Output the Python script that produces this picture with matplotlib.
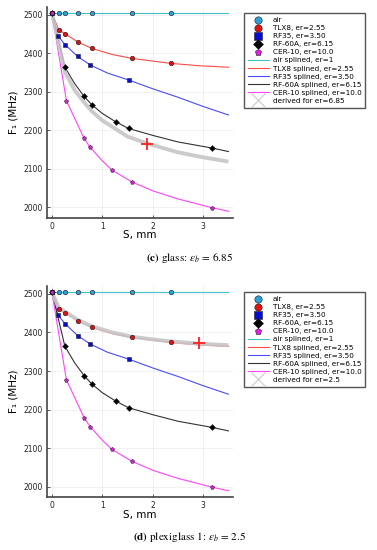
import matplotlib
matplotlib.use("Agg")
import matplotlib.pyplot as plt
from matplotlib.lines import Line2D

plt.rcParams["font.family"] = "DejaVu Sans"
plt.rcParams["mathtext.fontset"] = "stix"

# measured points (S in mm, F1 in MHz)
air_S = [0, 0.14, 0.26, 0.51, 0.79, 1.58, 2.36]
air_F = [2506, 2506, 2506, 2506, 2506, 2506, 2506]
tlx8_S = [0, 0.14, 0.26, 0.51, 0.79, 1.58, 2.36]
tlx8_F = [2506, 2460, 2451, 2430, 2413, 2387, 2374]
rf35_S = [0, 0.12, 0.26, 0.51, 0.76, 1.52]
rf35_F = [2506, 2446, 2423, 2392, 2370, 2331]
rf60_S = [0, 0.26, 0.64, 0.79, 1.27, 1.52, 3.18]
rf60_F = [2506, 2364, 2288, 2267, 2222, 2205, 2154]
cer10_S = [0, 0.29, 0.64, 0.76, 1.19, 1.59, 3.18]
cer10_F = [2506, 2277, 2179, 2156, 2097, 2066, 1999]

# splined curves
air_sp_S = [0, 3.5]
air_sp_F = [2506, 2506]
tlx8_sp_S = [0, 0.14, 0.26, 0.51, 0.79, 1.2, 1.58, 2.0, 2.36, 2.9, 3.5]
tlx8_sp_F = [2506, 2460, 2451, 2430, 2413, 2397, 2387, 2380, 2374, 2368, 2364]
rf35_sp_S = [0, 0.12, 0.26, 0.51, 0.76, 1.1, 1.52, 2.0, 2.5, 3.0, 3.5]
rf35_sp_F = [2506, 2446, 2423, 2392, 2370, 2349, 2331, 2308, 2286, 2262, 2240]
rf60_sp_S = [0, 0.26, 0.45, 0.64, 0.79, 1.0, 1.27, 1.52, 2.0, 2.5, 3.18, 3.5]
rf60_sp_F = [2506, 2364, 2322, 2288, 2267, 2244, 2222, 2205, 2187, 2170, 2154, 2145]
cer10_sp_S = [0, 0.29, 0.64, 0.76, 1.0, 1.19, 1.59, 2.0, 2.5, 3.18, 3.5]
cer10_sp_F = [2506, 2277, 2179, 2156, 2121, 2097, 2066, 2043, 2022, 1999, 1990]

# derived curves
glass_S = [0, 0.13, 0.26, 0.45, 0.66, 0.79, 1.0, 1.25, 1.5, 1.89, 2.5, 3.0, 3.5]
glass_F = [2506, 2430, 2352, 2305, 2270, 2250, 2226, 2205, 2184, 2166, 2143, 2130, 2119]
plexi_S = [0, 0.14, 0.26, 0.51, 0.79, 1.2, 1.58, 2.0, 2.36, 2.9, 3.5]
plexi_F = [2506, 2463, 2454, 2433, 2416, 2400, 2389, 2382, 2377, 2371, 2367]

glass_pt = (1.89, 2164)
plexi_pt = (2.91, 2372)

x_ticks = [0, 1, 2, 3]
y_ticks = [2000, 2100, 2200, 2300, 2400, 2500]

marker_sets = [
    (air_S, air_F, "o", "#2a9fd8", "air"),
    (tlx8_S, tlx8_F, "o", "#e01010", "TLX8, er=2.55"),
    (rf35_S, rf35_F, "s", "#0a0ad8", "RF35, er=3.50"),
    (rf60_S, rf60_F, "D", "black", "RF-60A, er=6.15"),
    (cer10_S, cer10_F, "p", "#e020e0", "CER-10, er=10.0"),
]
spline_sets = [
    (air_sp_S, air_sp_F, "#40c0c8", "air splined, er=1"),
    (tlx8_sp_S, tlx8_sp_F, "#ff4a4a", "TLX8 splined, er=2.55"),
    (rf35_sp_S, rf35_sp_F, "#4a4aff", "RF35 splined, er=3.50"),
    (rf60_sp_S, rf60_sp_F, "#333333", "RF-60A splined, er=6.15"),
    (cer10_sp_S, cer10_sp_F, "#ff44ff", "CER-10 splined, er=10.0"),
]


def draw_panel(ax, der_S, der_F, der_label, pt):
    for S, F, c, lab in spline_sets:
        ax.plot(S, F, color=c, lw=0.8, zorder=2)
    ax.plot(der_S, der_F, color="#c6c6c6", lw=2.8, alpha=0.9,
            solid_capstyle="butt", zorder=3)
    for S, F, m, c, lab in marker_sets:
        ms = 3.0 if m in ("D", "p") else 3.3
        ax.plot(S, F, ls="none", marker=m, ms=ms, mfc=c, mec="#202020",
                mew=0.4, zorder=4)
    ax.plot([pt[0]], [pt[1]], ls="none", marker="+", ms=8, mew=1.3,
            color="#ff2020", zorder=5)

    ax.set_xlim(-0.1, 3.59)
    ax.set_ylim(1973, 2520)
    ax.set_xticks(x_ticks)
    ax.set_yticks(y_ticks)
    ax.grid(True, color="black", alpha=0.07, lw=0.5)
    for s in ("top", "right"):
        ax.spines[s].set_visible(False)
    for s in ("left", "bottom"):
        ax.spines[s].set_color("#444444")
        ax.spines[s].set_linewidth(1.2)
    ax.tick_params(labelsize=5.5, direction="in", length=2, width=0.6,
                   color="#444444", pad=3, labelcolor="#222222")
    ax.set_xlabel("S, mm", fontsize=7.5)
    ax.xaxis.set_label_coords(0.5, -0.06)
    ax.set_ylabel("F₁ (MHz)", fontsize=7.5)
    ax.yaxis.set_label_coords(-0.15, 0.5)

    handles = []
    for S, F, m, c, lab in marker_sets:
        ms = 3.0 if m in ("D", "p") else 3.3
        handles.append(Line2D([], [], ls="none", marker=m, ms=ms, mfc=c,
                              mec="#202020", mew=0.4, label=lab))
    for S, F, c, lab in spline_sets:
        handles.append(Line2D([], [], color=c, lw=0.8, label=lab))
    handles.append(Line2D([], [], ls="none", marker="x", ms=6, mew=1.0,
                          color="#d4d4d4", label=der_label))
    leg = ax.legend(handles=handles, loc="upper left",
                    bbox_to_anchor=(1.059, 0.972), borderaxespad=0,
                    fontsize=5.2, markerscale=1.6, handlelength=2.9,
                    handletextpad=0.5, labelspacing=0.28, borderpad=0.55,
                    fancybox=False, framealpha=1, edgecolor="#555555")
    leg.get_frame().set_linewidth(1.0)


fig = plt.figure(figsize=(3.77, 5.5), dpi=100)
ax_c = fig.add_axes([0.124, 0.604, 0.494, 0.383])
ax_d = fig.add_axes([0.124, 0.0958, 0.494, 0.384])

draw_panel(ax_c, glass_S, glass_F, "derived for er=6.85", glass_pt)
draw_panel(ax_d, plexi_S, plexi_F, "derived for er=2.5", plexi_pt)

fig.text(0.503, 1 - 257.5 / 550, r"$\mathbf{(c)}$ glass: $\epsilon_b\,=\,6.85$",
         ha="center", va="center", fontsize=8, family="STIXGeneral")
fig.text(0.503, 1 - 536.7 / 550, r"$\mathbf{(d)}$ plexiglass 1: $\epsilon_b\,=\,2.5$",
         ha="center", va="center", fontsize=8, family="STIXGeneral")

fig.savefig("out.png", dpi=100)
